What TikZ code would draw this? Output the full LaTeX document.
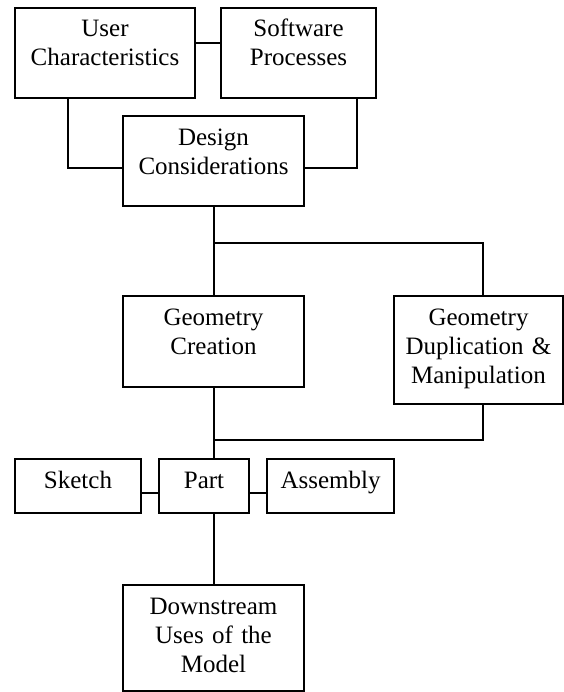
\documentclass[tikz,border=0pt]{standalone}
\usepackage{fontspec}
\setmainfont{Liberation Serif}
\usetikzlibrary{calc}

\begin{document}
\begin{tikzpicture}[x=1bp,y=-1bp,
    blk/.style={draw, line width=2bp, inner sep=0pt, anchor=north west,
      align=center, text height=29bp, font=\fontsize{25bp}{29bp}\selectfont},
    link/.style={line width=2bp}]

        % page size (y grows downward)
        \useasboundingbox (0,0) rectangle (564,692);

        % Top row
        \node[blk, text width=180bp, text depth=61bp] (user) at (14,7) {User\\Characteristics};
        \node[blk, text width=155bp, text depth=61bp] (soft) at (220,7) {Software\\Processes};
        \node[blk, text width=181bp, text depth=61bp] (design) at (122,115) {Design\\Considerations};

        % Geometry boxes
        \node[blk, text width=181bp, text depth=62bp] (gc) at (122,295) {Geometry\\Creation};
        \node[blk, text width=169bp, text depth=79bp] (gdm) at (393,295) {Geometry\\Duplication \&\\Manipulation};

        % Model row
        \node[blk, text width=126bp, text depth=25bp] (sketch) at (14,458) {Sketch};
        \node[blk, text width=90bp, text depth=25bp] (part) at (158,458) {Part};
        \node[blk, text width=127bp, text depth=25bp] (assembly) at (266,458) {Assembly};

        % Last box
        \node[blk, text width=181bp, text depth=77bp] (down) at (122,584) {Downstream\\Uses of the\\Model};

        % Junctions
        \coordinate (split) at ($(design.south)+(0,36)$);
        \coordinate (merge) at ($(gc.south)+(0,52)$);

        % Connectors
        \draw[link] ($(user.north east)+(0,36)$) -- ($(soft.north west)+(0,36)$);
        \draw[link] ($(user.south west)+(54,0)$) |- ($(design.north west)+(0,53)$);
        \draw[link] ($(soft.south west)+(137,0)$) |- ($(design.north east)+(0,53)$);
        \draw[link] (design.south) -- (gc.north);
        \draw[link] (split) -| ($(gdm.north west)+(90,0)$);
        \draw[link] (gc.south) -- (gc.south |- part.north);
        \draw[link] ($(gdm.south west)+(90,0)$) |- (merge);
        \draw[link] ($(sketch.north east)+(0,35)$) -- ($(part.north west)+(0,35)$);
        \draw[link] ($(part.north east)+(0,35)$) -- ($(assembly.north west)+(0,35)$);
        \draw[link] (part.south -| down.north) -- (down.north);

\end{tikzpicture}
\end{document}
